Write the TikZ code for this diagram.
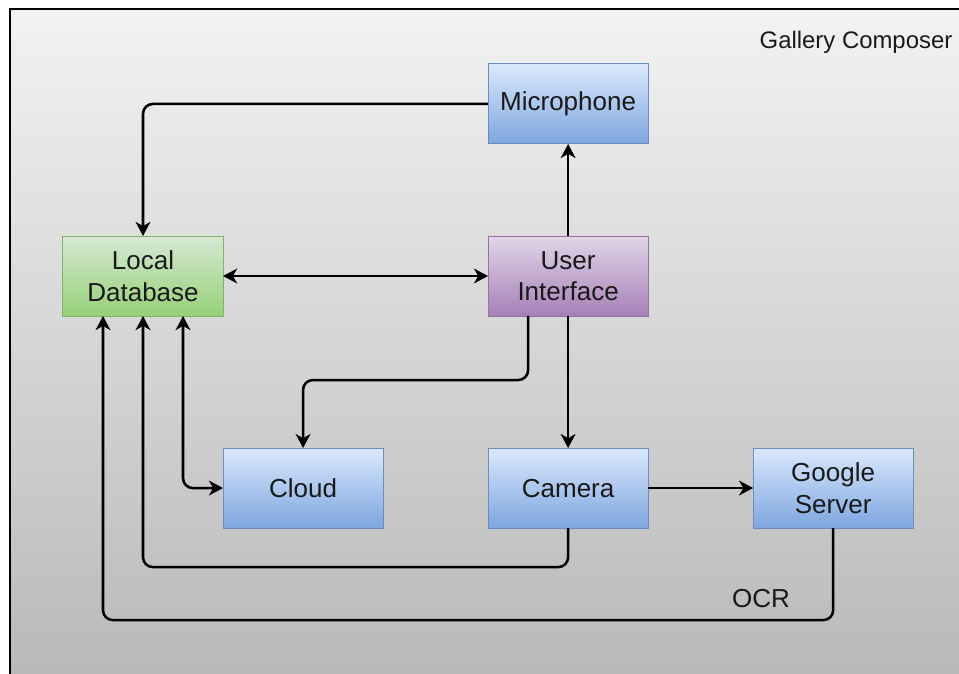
\documentclass[tikz,border=0pt]{standalone}
\usepackage{fontspec}
\setmainfont{Liberation Sans}
\usetikzlibrary{positioning,arrows.meta}

\definecolor{blueTop}{HTML}{DAE8FC}
\definecolor{blueBot}{HTML}{7EA6E0}
\definecolor{blueLine}{HTML}{6C8EBF}
\definecolor{greenTop}{HTML}{D5E8D4}
\definecolor{greenBot}{HTML}{97D077}
\definecolor{greenLine}{HTML}{82B366}
\definecolor{purpleTop}{HTML}{E1D5E7}
\definecolor{purpleBot}{HTML}{A680B8}
\definecolor{purpleLine}{HTML}{9673A6}

\tikzset{
  box/.style={draw, line width=0.7pt, minimum width=4cm, minimum height=2cm,
    inner sep=0pt, outer sep=0pt, align=center, text=black!90,
    font=\fontsize{18.5}{22.5}\selectfont},
  bluebox/.style={box, draw=blueLine, top color=blueTop, bottom color=blueBot},
  greenbox/.style={box, draw=greenLine, top color=greenTop, bottom color=greenBot},
  purplebox/.style={box, draw=purpleLine, top color=purpleTop, bottom color=purpleBot},
  conn/.style={->, line width=1.8pt, rounded corners=7pt},
  lbl/.style={text=black!90, font=\fontsize{18.5}{22.5}\selectfont},
  >={Stealth[length=10pt,width=10.5pt,inset=3pt]}
}

\begin{document}
\begin{tikzpicture}[x=0.025cm, y=-0.025cm]
  \useasboundingbox (0,0) rectangle (959,673);
  \clip (0,0) rectangle (959,673);
  \fill[white] (0,0) rectangle (959,673);
  \draw[line width=2pt, top color=black!5, bottom color=black!28] (10,9) rectangle (975,690);

  \node (title) [lbl, font=\fontsize{17}{20}\selectfont] at (856,42) {Gallery Composer};

  \node (db) [greenbox] at (143,276) {Local\\Database};
  \node (ui) [purplebox, right=6.625cm of db] {User\\Interface};
  \node (mic) [bluebox, above=2.3cm of ui] {Microphone};
  \node (cam) [bluebox, below=3.3cm of ui] {Camera};
  \node (cloud) [bluebox, left=2.625cm of cam] {Cloud};
  \node (gs) [bluebox, right=2.625cm of cam] {Google\\Server};
  \node (ocr) [lbl] at (761,599) {OCR};

  \draw[conn] (mic.west) -| (db.north);
  \draw[conn, <->] (db) -- (ui);
  \draw[conn] (ui) -- (mic);
  \draw[conn] ([xshift=-1cm]ui.south) -- ++(0,64) -| (cloud.north);
  \draw[conn] (ui) -- (cam);
  \draw[conn] (cam) -- (gs);
  \draw[conn, <->] ([xshift=1cm]db.south) |- (cloud.west);
  \draw[conn] (cam.south) -- ++(0,39) -| (db.south);
  \draw[conn] (gs.south) -- ++(0,92) -| ([xshift=-1cm]db.south);
\end{tikzpicture}
\end{document}
